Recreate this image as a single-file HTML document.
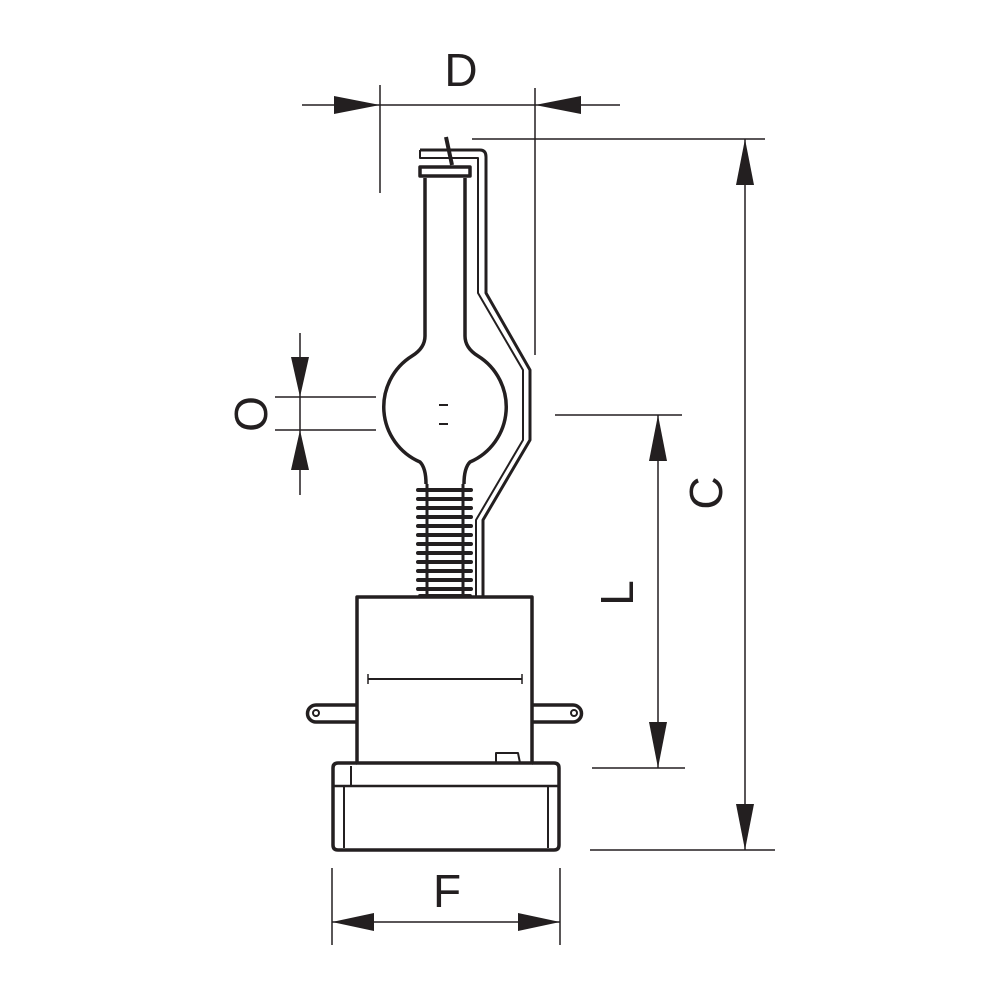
<!DOCTYPE html>
<html><head><meta charset="utf-8"><style>
html,body{margin:0;padding:0;background:#fff;width:1000px;height:1000px;overflow:hidden}
text{font-family:"Liberation Sans",sans-serif;font-size:46px;fill:#231f20}
</style></head><body>
<svg width="1000" height="1000" viewBox="0 0 1000 1000" xmlns="http://www.w3.org/2000/svg">
<g stroke="#231f20" fill="none" stroke-width="1.5">
<line x1="380" y1="85" x2="380" y2="193"/>
<line x1="535" y1="88" x2="535" y2="355"/>
<line x1="302" y1="105" x2="620" y2="105"/>
<line x1="472" y1="139" x2="765" y2="139"/>
<line x1="590" y1="850" x2="775" y2="850"/>
<line x1="745" y1="139" x2="745" y2="850"/>
<line x1="555" y1="415" x2="682" y2="415"/>
<line x1="592" y1="768" x2="685" y2="768"/>
<line x1="658" y1="415" x2="658" y2="768"/>
<line x1="275" y1="397" x2="376" y2="397"/>
<line x1="275" y1="430" x2="376" y2="430"/>
<line x1="300" y1="333" x2="300" y2="495"/>
<line x1="332" y1="868" x2="332" y2="945"/>
<line x1="560" y1="868" x2="560" y2="945"/>
<line x1="332" y1="922" x2="560" y2="922"/>
</g>
<g fill="#231f20">
<polygon points="380,105 334,96 334,114"/>
<polygon points="535,105 581,96 581,114"/>
<polygon points="745,139 736,185 754,185"/>
<polygon points="745,850 736,804 754,804"/>
<polygon points="658,415 649,461 667,461"/>
<polygon points="658,768 649,722 667,722"/>
<polygon points="300,397 291,357 309,357"/>
<polygon points="300,430 291,470 309,470"/>
<polygon points="332,922 374,913 374,931"/>
<polygon points="560,922 518,913 518,931"/>
</g>
<text x="461" y="86" text-anchor="middle">D</text>
<text x="447" y="907" text-anchor="middle">F</text>
<text transform="translate(722,493) rotate(-90)" text-anchor="middle">C</text>
<text transform="translate(633,593) rotate(-90)" text-anchor="middle">L</text>
<text transform="translate(267,414) rotate(-90)" text-anchor="middle">O</text>

<g stroke="#231f20" fill="none" stroke-width="3" stroke-linejoin="round">
<path d="M420,150 L480,150 Q486,150 486,157 L486,293 L530,370 L530,440 L483,520 L483,598"/>
<path d="M420,150 L420,158 L478,158 L478,293 L523,370 L523,440 L476,520 L476,598" stroke-width="2"/>
<line x1="446" y1="137" x2="452" y2="165" stroke-width="4"/>
<rect x="420" y="167" width="50" height="9" stroke-width="3.5"/>
<path d="M425,178 L425,336 Q425,348 412,356 A60,60 0 0 0 420,462 Q426,468 426,484" stroke-width="3.5"/>
<path d="M465,178 L465,336 Q465,348 478,356 A60,60 0 0 1 470,462 Q464,468 464,484" stroke-width="3.5"/>
<line x1="439" y1="405" x2="448" y2="405" stroke-width="2"/>
<line x1="439" y1="424" x2="448" y2="424" stroke-width="2"/>
<g stroke-width="4" stroke-linecap="round">
<path d="M418,490h53M418,499h53M418,508h53M418,517h53M418,526h53M418,535h53M418,544h53M418,553h53M418,562h53M418,571h53M418,580h53M418,589h53M420,596h50"/>
</g>
<line x1="427" y1="484" x2="427" y2="598" stroke-width="3"/>
<line x1="463" y1="484" x2="463" y2="598" stroke-width="3"/>
<rect x="357" y="597" width="175" height="166" stroke-width="3.5"/>
<path d="M357,705 L316,705 A8.5,8.5 0 0 0 316,722 L357,722" stroke-width="3.5"/>
<path d="M532,705 L573,705 A8.5,8.5 0 0 1 573,722 L532,722" stroke-width="3.5"/>
<circle cx="316" cy="713" r="3" stroke-width="2"/>
<circle cx="574" cy="713" r="3" stroke-width="2"/>
<line x1="368" y1="679" x2="522" y2="679" stroke-width="2"/>
<line x1="368" y1="674" x2="368" y2="684" stroke-width="1.5"/>
<line x1="522" y1="674" x2="522" y2="684" stroke-width="1.5"/>
<path d="M496,763 L496,753 L518,753 L520,763" stroke-width="2"/>
<path d="M357,763 L338,763 Q333,763 333,768 L333,845 Q333,850 338,850 L554,850 Q559,850 559,845 L559,768 Q559,763 554,763 L532,763" stroke-width="3.5"/>
<line x1="333" y1="786" x2="559" y2="786" stroke-width="2.5"/>
<line x1="351" y1="766" x2="351" y2="786" stroke-width="2"/>
<line x1="344" y1="786" x2="344" y2="848" stroke-width="2"/>
<line x1="548" y1="786" x2="548" y2="848" stroke-width="2"/>
</g>
</svg>
</body></html>
